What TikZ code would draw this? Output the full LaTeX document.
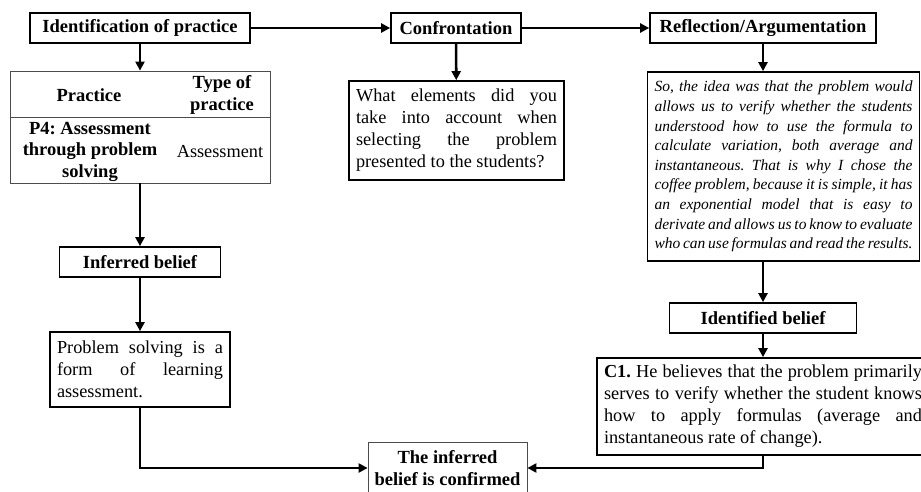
\documentclass[tikz,border=0pt]{standalone}
\usepackage{fontspec}
\setmainfont{Liberation Serif}
\usetikzlibrary{arrows.meta}
\frenchspacing
\hyphenpenalty=10000
\exhyphenpenalty=10000

\begin{document}
\begin{tikzpicture}[x=1pt,y=-1pt,
  head/.style={draw,line width=1.7pt,font=\bfseries\fontsize{18.5}{20}\selectfont,minimum height=30pt,inner sep=0pt},
  txt/.style={draw,line width=1.7pt,font=\fontsize{18.3}{22}\selectfont,align=justify,inner xsep=7pt},
  thinbox/.style={draw=black!70,line width=0.8pt},
  arr/.style={line width=2.6pt,-{Triangle[length=9pt,width=9pt]}}]
\useasboundingbox (0,0) rectangle (921,492);
%%%% top row
\node[head,minimum width=220pt] (ident) at (140,28) {Identification of practice};
\node[head,minimum width=130pt] (confr) at (456,28) {Confrontation};
\node[head,minimum width=226pt] (refl) at (763,28) {Reflection/Argumentation};
\draw[arr] (ident) -- (confr);
\draw[arr] (confr) -- (refl);
%%%% left column
\node[thinbox,minimum width=260pt,minimum height=112pt] (tab) at (140,127) {};
\coordinate (rowline) at (140,117);
\draw[thinbox] (tab.west |- rowline) -- (tab.east |- rowline);
\node[font=\bfseries\fontsize{18.5}{22}\selectfont] (prac) at (89,95) {Practice};
\node[font=\bfseries\fontsize{18.5}{22}\selectfont,align=center] (type) at (222,95) {Type of\\practice};
\node[font=\bfseries\fontsize{18.5}{21.5}\selectfont,align=center] (pfour) at (90,151.5) {P4: Assessment\\through problem\\solving};
\node[font=\fontsize{18.3}{22}\selectfont] (asses) at (220,152) {Assessment};
\draw[arr] (ident) -- (tab);
%
\node[head,minimum width=161pt] (infer) at (140,262) {Inferred belief};
\draw[arr] (tab) -- (infer);
\node[txt,text width=166pt,minimum height=75pt] (probsolv) at (140,369.5) {Problem solving is a\linebreak form of learning\linebreak assessment.};
\draw[arr] (infer) -- (probsolv);
%%%% result
\node[thinbox,font=\bfseries\fontsize{18.5}{22}\selectfont,align=center,minimum width=159pt,minimum height=52pt] (final) at (447.5,468) {The inferred\\belief is confirmed};
\draw[arr] (probsolv) |- (final);
%%%% middle column
\node[txt,text width=201pt,minimum height=99pt] (question) at (456.5,130.5) {What elements did you\linebreak take into account when\linebreak selecting the problem\linebreak presented to the students?};
\draw[arr] (confr) -- (question);
%%%% right column
\node[draw,line width=1.7pt,font=\itshape\fontsize{15.5}{19.6}\selectfont,align=justify,inner xsep=7pt,text width=258pt,minimum height=189pt] (quote) at (783.5,166.5) {So, the idea was that the problem would\linebreak allows us to verify whether the students\linebreak understood how to use the formula to\linebreak calculate variation, both average and\linebreak instantaneous. That is why I chose the\linebreak coffee problem, because it is simple, it has\linebreak an exponential model that is easy to\linebreak derivate and allows us to know to evaluate\linebreak who can use formulas and read the results.};
\draw[arr] (refl) -- (refl |- quote.north);
\node[head,minimum width=187pt] (idbel) at (763,318) {Identified belief};
\draw[arr] (idbel |- quote.south) -- (idbel);
\node[txt,text width=318pt,minimum height=97pt] (cone) at (763,406.5) {\textbf{C1.} He believes that the problem primarily\linebreak serves to verify whether the student knows\linebreak how to apply formulas (average and\linebreak instantaneous rate of change).};
\draw[arr] (idbel) -- (cone);
\draw[arr] (cone) |- (final);
\end{tikzpicture}
\end{document}
